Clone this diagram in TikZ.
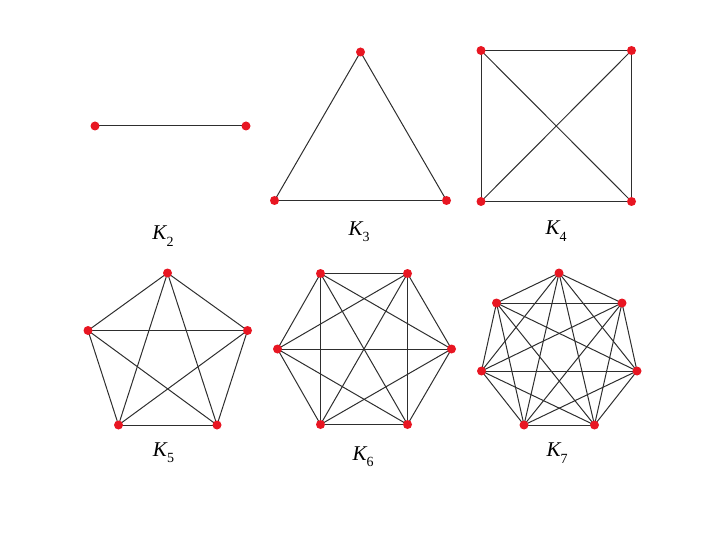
\documentclass[tikz,border=0pt]{standalone}
\usepackage{fontspec}
\setmainfont{Liberation Serif}
\usetikzlibrary{backgrounds}
\definecolor{vred}{RGB}{232,22,34}
\begin{document}
\begin{tikzpicture}[x=1pt,y=-1pt,
  vtx/.style={circle,fill=vred,inner sep=0pt,minimum size=9pt},
  edge/.style={line width=1pt,draw=black!82},
  lab/.style={font=\fontsize{21}{21}\selectfont\itshape,inner sep=0pt}]
\useasboundingbox (0,0) rectangle (720,540);
% K2
\node[vtx] (a1) at (95,126) {};
\node[vtx] (a2) at (246,126) {};
% K3
\node[vtx] (b1) at (360.5,52) {};
\node[vtx] (b2) at (274.5,200.5) {};
\node[vtx] (b3) at (446.5,200.5) {};
% K4
\node[vtx] (c1) at (481,50.5) {};
\node[vtx] (c2) at (631.5,50.5) {};
\node[vtx] (c3) at (631.5,201.5) {};
\node[vtx] (c4) at (481,201.5) {};
% K5
\node[vtx] (d1) at (167.5,273) {};
\node[vtx] (d2) at (247.5,330.5) {};
\node[vtx] (d3) at (217,425) {};
\node[vtx] (d4) at (118.5,425) {};
\node[vtx] (d5) at (88,330.5) {};
% K6
\node[vtx] (e1) at (320.5,273.5) {};
\node[vtx] (e2) at (407.5,273.5) {};
\node[vtx] (e3) at (451.5,349) {};
\node[vtx] (e4) at (407.5,424.5) {};
\node[vtx] (e5) at (320.5,424.5) {};
\node[vtx] (e6) at (277.5,349) {};
% K7
\node[vtx] (f1) at (559,273) {};
\node[vtx] (f2) at (622,303) {};
\node[vtx] (f3) at (637,371) {};
\node[vtx] (f4) at (594.5,425) {};
\node[vtx] (f5) at (524,425) {};
\node[vtx] (f6) at (481.5,371) {};
\node[vtx] (f7) at (496.5,303) {};
\begin{pgfonlayer}{background}
  \draw[edge] (a1.center) -- (a2.center);
  \foreach \g/\n in {b/3,c/4,d/5,e/6,f/7}{
    \pgfmathtruncatemacro{\m}{\n-1}
    \foreach \i in {1,...,\m}{
      \pgfmathtruncatemacro{\s}{\i+1}
      \foreach \j in {\s,...,\n}{
        \draw[edge] (\g\i.center) -- (\g\j.center);
      }
    }
  }
\end{pgfonlayer}
% labels
\node[lab] (l2) at (163,236) {K\raisebox{-0.3em}{\fontsize{14}{14}\selectfont\upshape 2}};
\node[lab] (l3) at (359,232) {K\raisebox{-0.3em}{\fontsize{14}{14}\selectfont\upshape 3}};
\node[lab] (l4) at (556,231) {K\raisebox{-0.3em}{\fontsize{14}{14}\selectfont\upshape 4}};
\node[lab] (l5) at (163.5,453) {K\raisebox{-0.3em}{\fontsize{14}{14}\selectfont\upshape 5}};
\node[lab] (l6) at (363,457) {K\raisebox{-0.3em}{\fontsize{14}{14}\selectfont\upshape 6}};
\node[lab] (l7) at (557,453) {K\raisebox{-0.3em}{\fontsize{14}{14}\selectfont\upshape 7}};
\end{tikzpicture}
\end{document}
